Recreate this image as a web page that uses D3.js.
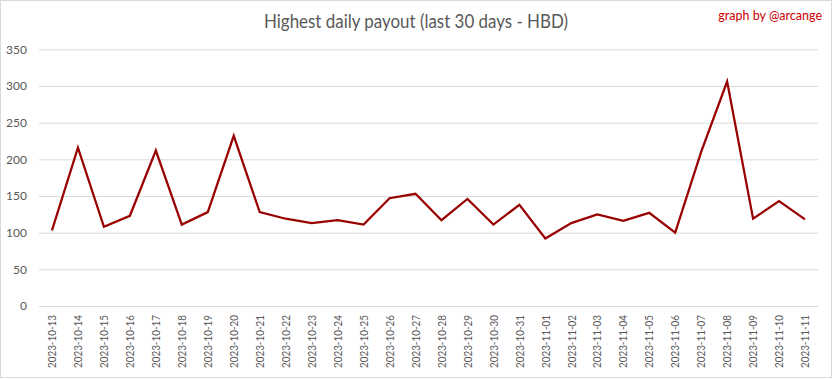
<!DOCTYPE html>
<html>
<head>
<meta charset="utf-8">
<script src="https://cdn.jsdelivr.net/npm/d3@7"></script>
<style>
html,body{margin:0;padding:0;background:#fff;}
svg{display:block;}
</style>
</head>
<body>
<svg id="chart" width="833" height="379"></svg>
<script>
const dates = ["2023-10-13","2023-10-14","2023-10-15","2023-10-16","2023-10-17","2023-10-18","2023-10-19","2023-10-20","2023-10-21","2023-10-22","2023-10-23","2023-10-24","2023-10-25","2023-10-26","2023-10-27","2023-10-28","2023-10-29","2023-10-30","2023-10-31","2023-11-01","2023-11-02","2023-11-03","2023-11-04","2023-11-05","2023-11-06","2023-11-07","2023-11-08","2023-11-09","2023-11-10","2023-11-11"];
const payouts = [103,216,108,123,212,111,128,232,128,119,113,117,111,147,153,117,146,111,138,92,113,125,116,127,100,210,306,119,143,118];
const yTicks = [0,50,100,150,200,250,300,350];
const titleText = "Highest daily payout (last 30 days - HBD)";
const creditText = "graph by @arcange";

const svg = d3.select("#chart");
const W = 833, H = 379;
const m = {left:39, right:15, top:49.3, bottom:73};
const FONT = "Lato, 'Open Sans', sans-serif";

svg.append("rect").attr("x",0.5).attr("y",0.5).attr("width",W-2).attr("height",H-2)
  .attr("fill","#fff").attr("stroke","#d9d9d9").attr("stroke-width",1);

const x = d3.scaleBand().domain(dates).range([m.left, W - m.right]).paddingInner(0).paddingOuter(0);
const y = d3.scaleLinear().domain([0,350]).range([H - m.bottom, m.top]);

// grid
const yAxis = d3.axisLeft(y).tickValues(yTicks).tickSize(-(W - m.right - m.left)).tickPadding(12);
const gy = svg.append("g").attr("transform",`translate(${m.left},0)`).call(yAxis);
gy.select(".domain").remove();
gy.selectAll(".tick line").attr("stroke","#d9d9d9").attr("stroke-width",1);
gy.selectAll(".tick text").attr("fill","#595959").attr("font-family",FONT).attr("font-size","12px");

// x axis
const xAxis = d3.axisBottom(x).tickSize(0).tickPadding(0);
const gx = svg.append("g").attr("transform",`translate(0,${H - m.bottom})`).call(xAxis);
gx.select(".domain").remove();
gx.selectAll(".tick text")
  .attr("fill","#595959").attr("font-family",FONT).attr("font-size","12px")
  .attr("transform","rotate(-90)")
  .attr("text-anchor","end").attr("dy","0.35em").attr("x",-9).attr("y",0)
  .attr("textLength",53).attr("lengthAdjust","spacingAndGlyphs");

// line
const line = d3.line().x((d,i)=>x(dates[i]) + x.bandwidth()/2).y(d=>y(d));
svg.append("path").datum(payouts).attr("d",line)
  .attr("fill","none").attr("stroke","#990000").attr("stroke-width",2.25).attr("stroke-linejoin","miter");

// title
svg.append("text").attr("x",416).attr("y",28).attr("text-anchor","middle")
  .attr("fill","#595959").attr("font-family",FONT).attr("font-size","18.5px")
  .attr("textLength",304).attr("lengthAdjust","spacingAndGlyphs")
  .text(titleText);

svg.append("text").attr("x",822).attr("y",20).attr("text-anchor","end")
  .attr("fill","#cc0000").attr("font-family",FONT).attr("font-size","12.5px")
  .text(creditText);
</script>
</body>
</html>
